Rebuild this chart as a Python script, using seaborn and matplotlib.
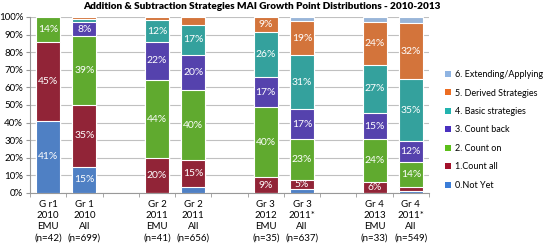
import numpy as np
import pandas as pd
import seaborn as sb
import matplotlib.pyplot as plt
from matplotlib.patches import Patch
from matplotlib.ticker import FuncFormatter

groups = ['G r1\n2010\nEMU\n(n=42)', 'Gr 1\n2010\nAll\n(n=699)',
          'Gr 2\n2011\nEMU\n(n=41)', 'Gr 2\n2011\nAll\n(n=656)',
          'Gr 3\n2012\nEMU\n(n=35)', 'Gr 3\n2011*\nAll\n(n=637)',
          'Gr 4\n2013\nEMU\n(n=33)', 'Gr 4\n2011*\nAll\n(n=549)']
slots = [0, 1, 3, 4, 6, 7, 9, 10]

levels = ['0.Not Yet', '1.Count all', '2. Count on', '3. Count back',
          '4. Basic strategies', '5. Derived Strategies', '6. Extending/Applying']

not_yet   = [41, 15, 0, 3.5, 0, 2.5, 0, 1]
count_all = [45, 35, 20, 15, 9, 5, 6, 2.5]
count_on  = [14, 39, 44, 40, 39.6, 23, 24.4, 14]
count_bk  = [0, 8, 22, 20, 17, 17, 15, 12]
basic     = [0, 2, 12, 17, 25.6, 31, 27.4, 35]
derived   = [0, 1, 2, 4.5, 8.8, 19, 24.2, 32]
extending = [0, 0, 0, 0, 0, 2.5, 3, 3.5]

colors = ['#3B7DD8', '#A3122B', '#5CBF1A', '#4A30BF',
          '#22B3AE', '#EC6D22', '#8FB4E2']

data = pd.DataFrame(np.array([not_yet, count_all, count_on, count_bk,
                              basic, derived, extending]).T,
                    columns=levels)
data['pos'] = slots
data = data.set_index('pos')
cum = data.cumsum(axis=1)

plt.rcParams['font.family'] = ['Lato', 'DejaVu Sans']

fi = plt.figure(figsize=(5.43, 2.49), dpi=100)
ax = fi.add_axes([0.0553, 0.225, 0.7347, 0.707])

# stacked bars: draw cumulative tops from the highest level down
for lvl, col in reversed(list(zip(levels, colors))):
    sb.barplot(x=cum.index.values, y=cum[lvl].values,
               native_scale=True, width=0.66, color=col,
               edgecolor='white', linewidth=0.8, ax=ax, zorder=3)

# percentage labels
for pos in data.index:
    bottom = 0
    for lvl in levels:
        val = data.loc[pos, lvl]
        if val >= 4.8:
            ax.text(pos, bottom + val / 2, '{:.0f}%'.format(val),
                    ha='center', va='center', color='white',
                    fontsize=7.5, zorder=5)
        bottom += val

ax.set_xlim(-0.5, 10.5)
ax.set_ylim(0, 100)
ax.set_yticks(np.arange(0, 101, 10))
ax.yaxis.set_major_formatter(FuncFormatter(lambda v, p: '{:.0f}%'.format(v)))
ax.set_xticks(slots)
ax.set_xticklabels(groups, fontsize=7, linespacing=1.3)
ax.set_xticks(np.arange(-0.5, 10.6, 1), minor=True)
ax.tick_params(axis='x', which='major', length=0, pad=5)
ax.tick_params(axis='x', which='minor', length=3, color='#999999')
ax.tick_params(axis='y', labelsize=7, length=3, color='#999999', pad=2)

ax.grid(axis='y', color='#C0C0C0', linewidth=0.8, zorder=0)
ax.set_axisbelow(True)
for s in ['top', 'right']:
    ax.spines[s].set_visible(False)
for s in ['left', 'bottom']:
    ax.spines[s].set_color('#999999')
    ax.spines[s].set_linewidth(0.8)

fi.suptitle('Addition & Subtraction Strategies MAI Growth Point Distributions - 2010-2013',
            fontsize=7.2, fontweight='heavy', x=0.483, y=0.99, va='top')

handles = [Patch(facecolor=c, edgecolor='none') for c in colors]
fi.legend(handles[::-1], levels[::-1],
          loc='center left',
          bbox_to_anchor=(0.805, 0.478),
          frameon=False,
          fontsize=6.5,
          handlelength=0.6,
          handleheight=0.6,
          handletextpad=0.5,
          labelspacing=1.05)

plt.savefig('out.png', dpi=100)
plt.close()
